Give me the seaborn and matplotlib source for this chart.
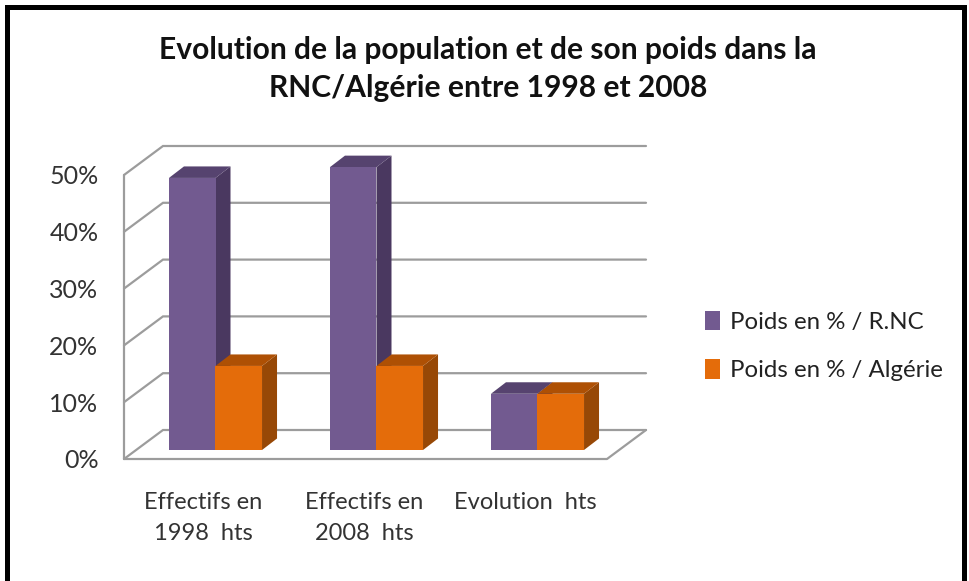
import matplotlib
matplotlib.use("Agg")
import matplotlib.pyplot as plt
import numpy as np
import pandas as pd
import seaborn as sns
from matplotlib.patches import Polygon, Rectangle

categories = ["Effectifs en\n1998  hts", "Effectifs en\n2008  hts", "Evolution  hts"]
series_names = ["Poids en % / R.NC", "Poids en % / Algérie"]
rnc_values = [47.9, 49.8, 9.9]
algerie_values = [14.8, 14.8, 9.9]
y_ticks = [0, 10, 20, 30, 40, 50]
y_labels = ["0%", "10%", "20%", "30%", "40%", "50%"]
title = "Evolution de la population et de son poids dans la\nRNC/Algérie entre 1998 et 2008"

FRONT = ["#725A90", "#E46C0A"]
SIDE = ["#4A3860", "#974806"]
TOP = ["#56436F", "#AE5004"]
GRID = "#9C9C9C"
W, H = 970, 581

sns.set_theme(style="white")
plt.rcParams["font.family"] = ["Lato", "DejaVu Sans"]

df = pd.DataFrame({
    "cat": categories * 2,
    "serie": [series_names[0]] * 3 + [series_names[1]] * 3,
    "val": rnc_values + algerie_values,
})

fig = plt.figure(figsize=(W / 100, H / 100), dpi=100, facecolor="white")
# axes bottom sits on the front edge of the floor, 9px under the bar bases
ax = fig.add_axes([135 / W, 1 - 459 / H, 483 / W, 293 / H])
sns.barplot(data=df, x="cat", y="val", hue="serie", palette=FRONT, hue_order=series_names,
            width=0.578, gap=0, saturation=1, linewidth=0, ax=ax, zorder=5)
ax.set_xlabel(""); ax.set_ylabel("")
sns.despine(ax=ax, left=True, bottom=True)
ax.patch.set_alpha(0)

# pixel sizes of the fake 3d box, in data units
px_x = 1 / 161
px_y = 50 / 284
depth_x = 15 * px_x
depth_y = 11.5 * px_y
front_y = -9 * px_y
back_y = 20 * px_y
left_front, left_back = (124 - 135) * px_x - 0.5, (163 - 135) * px_x - 0.5
right_front, right_back = (607 - 135) * px_x - 0.5, (646 - 135) * px_x - 0.5

# walls and gridlines
for v in y_ticks:
    ax.plot([left_front, left_back, right_back], [v + front_y, v + back_y, v + back_y],
            color=GRID, lw=1.6, zorder=1, clip_on=False, solid_joinstyle="miter")
ax.plot([left_front, left_front], [front_y, 50 + front_y], color=GRID, lw=1.6, zorder=1, clip_on=False)
ax.plot([left_front, right_front, right_back], [front_y, front_y, back_y],
        color=GRID, lw=1.6, zorder=1, clip_on=False)

# side and top faces from the bars seaborn drew
for i, cont in enumerate(ax.containers):
    for bar in cont:
        x0, x1 = bar.get_x(), bar.get_x() + bar.get_width()
        y1 = bar.get_height()
        side = [(x1, 0), (x1 + depth_x, depth_y), (x1 + depth_x, y1 + depth_y), (x1, y1)]
        top = [(x0, y1), (x0 + depth_x, y1 + depth_y), (x1 + depth_x, y1 + depth_y), (x1, y1)]
        ax.add_patch(Polygon(side, color=SIDE[i], lw=0, zorder=3 + i, clip_on=False))
        ax.add_patch(Polygon(top, color=TOP[i], lw=0, zorder=3 + i, clip_on=False))

ax.set_yticks(np.array(y_ticks) + front_y, y_labels)
ax.set_xticks(np.arange(3) - 12 * px_x, categories)
ax.set_xlim(-0.5, 2.5)
ax.set_ylim(front_y, 50)
ax.tick_params(axis="y", length=0, pad=26.3, labelsize=18, labelcolor="#333333")
ax.tick_params(axis="x", length=0, pad=24, labelsize=17, labelcolor="#333333")
for lab in ax.get_xticklabels():
    lab.set_linespacing(1.55)

handles, labels = ax.get_legend_handles_labels()
ax.legend(handles, labels, frameon=False, loc="center left", fontsize=17.3, labelcolor="#222222",
          bbox_to_anchor=(705 / W, 1 - 346 / H), bbox_transform=fig.transFigure,
          handlelength=0.63, handleheight=0.9, handletextpad=0.42, labelspacing=1.1,
          borderpad=0, borderaxespad=0)

fig.text(488 / W, 1 - 69 / H, title, ha="center", va="center", fontsize=21.6, fontweight="bold",
         color="#111111", linespacing=1.42)

# black frame, runs off the bottom of the picture
fig.add_artist(Rectangle((7.5 / W, -0.05), 957 / W, 1 - 6.5 / H + 0.05, transform=fig.transFigure,
                         fill=False, edgecolor="black", lw=3.6))

fig.savefig("out.png", dpi=100)
